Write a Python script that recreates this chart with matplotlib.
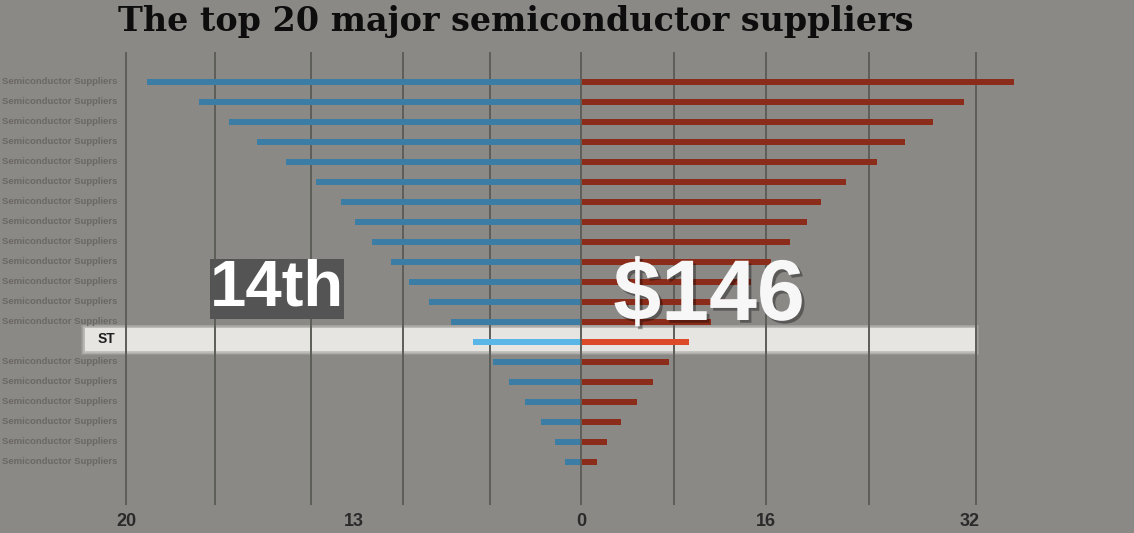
import matplotlib
matplotlib.use("Agg")
import matplotlib.pyplot as plt
import matplotlib.patheffects as pe
from matplotlib.patches import Rectangle

# =========================
# DATOS
# =========================
titulo = "The top 20 major semiconductor suppliers"

etiquetas = ["Semiconductor Suppliers"] * 13 + ["ST"] + ["Semiconductor Suppliers"] * 6
destacado = "ST"
valor_destacado = "$146"

azul_vals = [36.1, 31.75, 29.25, 26.9, 24.5, 22.0, 19.9, 18.7, 17.3, 15.75,
             14.25, 12.6, 10.75, 8.9, 7.25, 5.9, 4.6, 3.25, 2.1, 1.2]
rojo_vals = [36.0, 31.8, 29.2, 26.9, 24.6, 22.0, 19.9, 18.7, 17.3, 15.75,
             14.1, 12.4, 10.75, 8.9, 7.25, 5.9, 4.6, 3.25, 2.1, 1.2]

grid_x = [-37.9, -30.5, -22.5, -14.8, -7.6, 0, 7.75, 15.4, 24.0, 32.9]
tick_pos = [-37.9, -18.9, 0, 15.4, 32.4]
tick_labels = ["20", "13", "0", "16", "32"]

# =========================
# ESTILO
# =========================
FONDO = "#8b8986"
AZUL = "#3c7da6"
ROJO = "#8b2b19"
AZUL_ST = "#5bb6e8"
ROJO_ST = "#dc4a28"
GRID = "#5e5e59"

fig = plt.figure(figsize=(11.34, 5.33), dpi=100)
fig.patch.set_facecolor(FONDO)
ax = fig.add_axes([0, 0, 1, 1])
ax.set_facecolor(FONDO)
ax.set_xlim(-581 / 12, 553 / 12)
ax.set_ylim(22.55, -4.1)
ax.axis("off")

idx_st = etiquetas.index(destacado)
filas = list(range(len(etiquetas)))

# banda blanca (glow) de la fila destacada
for k in range(6, -1, -1):
    a = 0.12 if k > 0 else 0.7
    ax.add_patch(Rectangle((-41.3 - k * 0.06, idx_st - 0.68 - k * 0.03),
                           74.1 + k * 0.12, 1.15 + k * 0.06,
                           facecolor="#f6f5f2", edgecolor="none", alpha=a, zorder=1))

# lineas verticales
ax.vlines(grid_x, -1.5, 21.15, colors=GRID, linewidth=1.4, zorder=2)

# barras
col_az = [AZUL_ST if i == idx_st else AZUL for i in filas]
col_ro = [ROJO_ST if i == idx_st else ROJO for i in filas]
ax.barh(filas, [-v for v in azul_vals], left=-0.1, height=0.33, color=col_az, zorder=3)
ax.barh(filas, rojo_vals, left=0.1, height=0.33, color=col_ro, zorder=3)

# etiquetas de filas
for i, lab in enumerate(etiquetas):
    if lab == destacado:
        ax.text(-38.8, i - 0.15, lab, ha="right", va="center", fontsize=10,
                fontweight="bold", color="#1e1e1e", family="Liberation Sans", zorder=4)
    else:
        ax.text(-38.6, i, lab, ha="right", va="center", fontsize=6.8,
                fontweight="bold", color="#6a6764", family="Liberation Sans", zorder=4)

# eje inferior
for p, t in zip(tick_pos, tick_labels):
    ax.text(p, 22.0, t, ha="center", va="center", fontsize=13, fontweight="bold",
            color="#2a2a2a", family=["Liberation Sans Narrow", "Liberation Sans"])

# titulo
ax.text(-38.6, -3.0, titulo, ha="left", va="center", fontsize=24,
        fontweight="bold", color="#0d0d0d", family="DejaVu Serif")

# textos grandes
ax.text(-25.3, 10.35, f"{idx_st + 1}th", ha="center", va="center", fontsize=47,
        fontweight="bold", color="white", family="Liberation Sans", zorder=6,
        bbox=dict(boxstyle="square,pad=0.0", facecolor="#545454", edgecolor="none"))
ax.text(10.67, 10.8, valor_destacado, ha="center", va="center", fontsize=62,
        fontweight="bold", color="#f7f7f7", family="Liberation Sans", zorder=6,
        path_effects=[pe.withSimplePatchShadow(offset=(2, -2), shadow_rgbFace="black", alpha=0.35)])

fig.savefig("out.png", dpi=100, facecolor=FONDO)
